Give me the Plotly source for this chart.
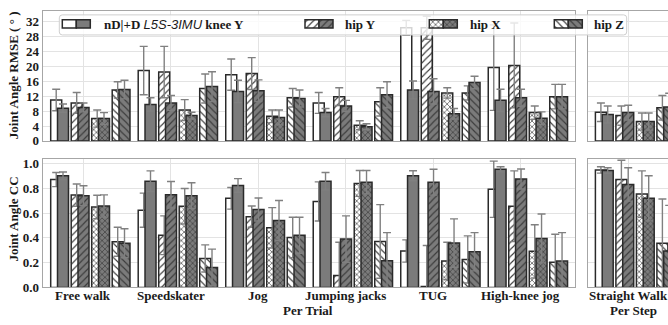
import plotly.graph_objects as go

# ---------------- data ----------------
categories_trial = ["Free walk", "Speedskater", "Jog", "Jumping jacks", "TUG", "High-knee jog"]
categories_step = ["Straight Walk"]
joints = ["knee Y", "hip Y", "hip X", "hip Z"]

# RMSE (deg): 6 per-trial values followed by 1 per-step value
rmse_knee_nD = [11.0, 18.9, 17.8, 10.2, 30.4, 19.7, 7.7]
rmse_knee_D = [8.8, 9.8, 13.3, 7.6, 13.7, 10.9, 7.1]
rmse_hipY_nD = [10.2, 18.5, 18.1, 11.9, 30.4, 20.3, 6.8]
rmse_hipY_D = [9.0, 10.2, 13.5, 9.4, 13.3, 11.6, 7.6]
rmse_hipX_nD = [6.0, 8.3, 6.6, 4.2, 12.9, 7.6, 5.2]
rmse_hipX_D = [6.0, 6.8, 6.3, 3.8, 7.3, 6.1, 5.2]
rmse_hipZ_nD = [13.7, 14.1, 11.6, 10.5, 12.9, 11.9, 8.9]
rmse_hipZ_D = [13.8, 14.6, 11.4, 12.4, 15.7, 11.9, 9.1]

rmse_knee_nD_sd = [2.9, 6.5, 4.2, 2.8, 2.0, 11.5, 2.5]
rmse_knee_D_sd = [1.1, 1.8, 3.0, 1.1, 2.4, 3.0, 2.3]
rmse_hipY_nD_sd = [2.8, 6.9, 4.3, 2.4, 3.1, 11.4, 2.6]
rmse_hipY_D_sd = [1.2, 2.0, 2.9, 1.5, 3.4, 2.3, 2.0]
rmse_hipX_nD_sd = [2.3, 2.8, 1.7, 1.2, 1.4, 1.8, 2.3]
rmse_hipX_D_sd = [1.6, 0.9, 2.0, 0.8, 1.4, 1.7, 2.3]
rmse_hipZ_nD_sd = [2.2, 3.9, 2.5, 3.8, 1.9, 3.3, 3.3]
rmse_hipZ_D_sd = [2.5, 4.0, 2.3, 3.5, 1.7, 3.3, 3.7]

# CC: 6 per-trial values followed by 1 per-step value
cc_knee_nD = [0.870, 0.623, 0.719, 0.694, 0.294, 0.792, 0.948]
cc_knee_D = [0.901, 0.857, 0.823, 0.857, 0.901, 0.953, 0.943]
cc_hipY_nD = [0.745, 0.421, 0.571, 0.096, 0.008, 0.655, 0.870]
cc_hipY_D = [0.740, 0.748, 0.629, 0.390, 0.849, 0.875, 0.831]
cc_hipX_nD = [0.649, 0.655, 0.481, 0.839, 0.213, 0.291, 0.753]
cc_hipX_D = [0.657, 0.740, 0.540, 0.849, 0.358, 0.395, 0.719]
cc_hipZ_nD = [0.369, 0.234, 0.403, 0.371, 0.226, 0.203, 0.356]
cc_hipZ_D = [0.356, 0.161, 0.421, 0.216, 0.288, 0.213, 0.294]

cc_knee_nD_sd = [0.057, 0.138, 0.087, 0.158, 0.090, 0.227, 0.026]
cc_knee_D_sd = [0.030, 0.083, 0.055, 0.070, 0.040, 0.021, 0.023]
cc_hipY_nD_sd = [0.090, 0.156, 0.086, 0.268, 0.330, 0.285, 0.156]
cc_hipY_D_sd = [0.080, 0.107, 0.093, 0.187, 0.104, 0.081, 0.135]
cc_hipX_nD_sd = [0.095, 0.143, 0.163, 0.104, 0.151, 0.215, 0.187]
cc_hipX_D_sd = [0.090, 0.104, 0.161, 0.094, 0.195, 0.197, 0.182]
cc_hipZ_nD_sd = [0.117, 0.109, 0.163, 0.297, 0.190, 0.226, 0.358]
cc_hipZ_D_sd = [0.117, 0.148, 0.145, 0.226, 0.154, 0.229, 0.368]

rmse_ticks = [0, 4, 8, 12, 16, 20, 24, 28, 32]
cc_ticks = [0.0, 0.2, 0.4, 0.6, 0.8, 1.0]

# ---------------- layout helpers ----------------
W, H = 668, 325
def px(x):
    return x / W
def py(y):
    return 1 - y / H

SERIF = "Liberation Serif"
TXT = "#1a1a1a"
GRAY = "#7b7b7b"
EDGE = "#2a2a2a"
ERR = "#808080"
FRAME = "#a6a6a6"
GRID = "#e3e3e3"

patterns = {"knee Y": "", "hip Y": "/", "hip X": "x", "hip Z": "\\"}
fills = {"nD": "#ffffff", "D": GRAY}

rmse_series = {
    ("knee Y", "nD"): (rmse_knee_nD, rmse_knee_nD_sd), ("knee Y", "D"): (rmse_knee_D, rmse_knee_D_sd),
    ("hip Y", "nD"): (rmse_hipY_nD, rmse_hipY_nD_sd), ("hip Y", "D"): (rmse_hipY_D, rmse_hipY_D_sd),
    ("hip X", "nD"): (rmse_hipX_nD, rmse_hipX_nD_sd), ("hip X", "D"): (rmse_hipX_D, rmse_hipX_D_sd),
    ("hip Z", "nD"): (rmse_hipZ_nD, rmse_hipZ_nD_sd), ("hip Z", "D"): (rmse_hipZ_D, rmse_hipZ_D_sd),
}
cc_series = {
    ("knee Y", "nD"): (cc_knee_nD, cc_knee_nD_sd), ("knee Y", "D"): (cc_knee_D, cc_knee_D_sd),
    ("hip Y", "nD"): (cc_hipY_nD, cc_hipY_nD_sd), ("hip Y", "D"): (cc_hipY_D, cc_hipY_D_sd),
    ("hip X", "nD"): (cc_hipX_nD, cc_hipX_nD_sd), ("hip X", "D"): (cc_hipX_D, cc_hipX_D_sd),
    ("hip Z", "nD"): (cc_hipZ_nD, cc_hipZ_nD_sd), ("hip Z", "D"): (cc_hipZ_D, cc_hipZ_D_sd),
}

UNIT = 87.51          # px per category
PAIR_START = -27.1 / UNIT
PAIR_STEP = 20.5 / UNIT
SIDE_STEP = 6.8 / UNIT
BAR_W = 11.0 / UNIT


def marker_for(joint, side):
    m = dict(color=fills[side], line=dict(color=EDGE, width=1.5))
    shp = patterns[joint]
    if shp:
        m["pattern"] = dict(shape=shp, size=5 if shp != "x" else 4, solidity=0.22 if shp != "x" else 0.3,
                            fgcolor="#3a3a3a", bgcolor=fills[side], fillmode="replace")
    return m


fig = go.Figure()
n_trial = len(categories_trial)
panels = [
    (rmse_series, ("x", "y"), ("x2", "y2")),
    (cc_series, ("x3", "y3"), ("x4", "y4")),
]
for series, ax_trial, ax_step in panels:
    for j, joint in enumerate(joints):
        for k, side in enumerate(["nD", "D"]):
            vals, sds = series[(joint, side)]
            off = PAIR_START + j * PAIR_STEP + k * SIDE_STEP
            for (xa, ya), v, s in [(ax_trial, vals[:n_trial], sds[:n_trial]),
                                   (ax_step, vals[n_trial:], sds[n_trial:])]:
                fig.add_trace(go.Bar(
                    x=[i + off for i in range(len(v))], y=v, width=BAR_W,
                    marker=marker_for(joint, side),
                    error_y=dict(type="data", array=s, visible=True, color=ERR, thickness=1.4, width=4),
                    xaxis=xa, yaxis=ya, showlegend=False, hoverinfo="skip"))

# ---------------- legend (overlay subplot in pixel units) ----------------
leg_box = dict(x0=59.3, x1=626.7, y0=13.3, y1=34.0)
fig.add_trace(go.Bar(x=[(leg_box["x0"] + leg_box["x1"]) / 2], base=[leg_box["y0"]],
                     y=[leg_box["y1"] - leg_box["y0"]], width=[leg_box["x1"] - leg_box["x0"]],
                     marker=dict(color="rgba(255,255,255,0.8)", line=dict(color="#cfcfcf", width=1), cornerradius=3),
                     xaxis="x5", yaxis="y5", showlegend=False, hoverinfo="skip"))
swatch_left = [62.3, 305.0, 429.3, 554.3]
text_left = [101.7, 343.0, 468.0, 592.0]
SW_W, SW_Y0, SW_H = 14.0, 18.3, 8.6
for j, joint in enumerate(joints):
    for k, side in enumerate(["nD", "D"]):
        fig.add_trace(go.Bar(x=[swatch_left[j] + SW_W * (k + 0.5)], base=[SW_Y0], y=[SW_H], width=[SW_W],
                             marker=marker_for(joint, side), xaxis="x5", yaxis="y5",
                             showlegend=False, hoverinfo="skip"))

bold13 = dict(family=SERIF, size=13, color=TXT, weight="bold")
legend_texts = [
    "nD|+D <span style='font-family:Liberation Sans;font-style:italic;font-weight:normal'>L5S-3IMU</span> knee Y",
    "hip Y", "hip X", "hip Z",
]
annotations = []
for j, t in enumerate(legend_texts):
    annotations.append(dict(text=t, x=px(text_left[j]), y=py(23.0), xref="paper", yref="paper",
                            xanchor="left", yanchor="middle", showarrow=False, font=bold13))

# category labels placed on the x scales of the bottom panels
for xref, cats in [("x3", categories_trial), ("x4", categories_step)]:
    for i, c in enumerate(cats):
        annotations.append(dict(text=c, x=i, xref=xref, y=py(302.5), yref="paper",
                                xanchor="center", yanchor="middle", showarrow=False, font=bold13))

# axis titles and group labels
for t, x, y, ang in [("Joint Angle RMSE ( ° )", 13.5, 76, -90), ("Joint Angle CC", 13.5, 224, -90),
                     ("Per Trial", 308, 318.5, 0), ("Per Step", 633, 318.5, 0)]:
    annotations.append(dict(text=t, x=px(x), y=py(y), textangle=ang, xref="paper", yref="paper",
                            xanchor="center", yanchor="middle", showarrow=False, font=bold13))

common_x = dict(showgrid=True, gridcolor=GRID, gridwidth=1, showline=True, linecolor=FRAME, linewidth=1,
                mirror=True, zeroline=False, ticks="", showticklabels=False)
common_y = dict(showgrid=True, gridcolor=GRID, gridwidth=1, showline=True, linecolor=FRAME, linewidth=1,
                zeroline=False, ticks="", tickfont=bold13)

top_dom = [py(143.3), py(9.0)]
bot_dom = [py(294.5), py(161.5)]
left_dom = [px(42.7), px(575.0)]
right_dom = [px(588.3), 1.0]
left_rng = [-(83.3 - 42.7) / UNIT, -(83.3 - 42.7) / UNIT + (575.0 - 42.7) / UNIT]
right_rng = [-(628.0 - 588.3) / UNIT, -(628.0 - 588.3) / UNIT + (668.0 - 588.3) / UNIT]

fig.update_layout(
    width=W, height=H, margin=dict(l=0, r=0, t=0, b=0),
    paper_bgcolor="white", plot_bgcolor="rgba(0,0,0,0)",
    barmode="overlay", showlegend=False,
    xaxis=dict(common_x, domain=left_dom, range=left_rng, anchor="y", tickvals=list(range(n_trial))),
    yaxis=dict(common_y, domain=top_dom, range=[0, 35], anchor="x", mirror=True,
               tickvals=rmse_ticks, ticktext=[str(t) for t in rmse_ticks]),
    xaxis2=dict(common_x, domain=right_dom, range=right_rng, anchor="y2",
                tickvals=list(range(len(categories_step)))),
    yaxis2=dict(common_y, domain=top_dom, range=[0, 35], anchor="x2", mirror=False,
                tickvals=rmse_ticks, showticklabels=False),
    xaxis3=dict(common_x, domain=left_dom, range=left_rng, anchor="y3", tickvals=list(range(n_trial))),
    yaxis3=dict(common_y, domain=bot_dom, range=[0, 1.04], anchor="x3", mirror=True,
                tickvals=cc_ticks, ticktext=[f"{t:.1f}" for t in cc_ticks]),
    xaxis4=dict(common_x, domain=right_dom, range=right_rng, anchor="y4",
                tickvals=list(range(len(categories_step)))),
    yaxis4=dict(common_y, domain=bot_dom, range=[0, 1.04], anchor="x4", mirror=False,
                tickvals=cc_ticks, showticklabels=False),
    xaxis5=dict(domain=[0, 1], range=[0, W], visible=False, anchor="y5", fixedrange=True),
    yaxis5=dict(domain=[0, 1], range=[H, 0], visible=False, anchor="x5", fixedrange=True),
    annotations=annotations,
)

fig.write_html("out.html")
